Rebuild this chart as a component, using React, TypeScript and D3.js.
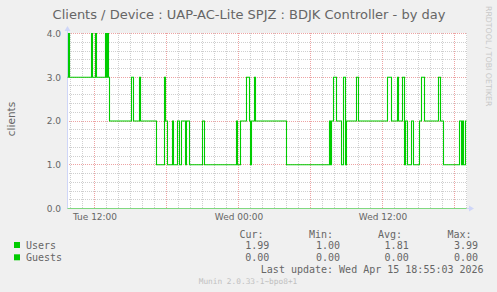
import React from "react";
import * as d3 from "d3";

// ---- data ----
const userTimes = [
  "04-14 09:45","04-14 09:50","04-14 09:55","04-14 11:45","04-14 11:50","04-14 12:05","04-14 12:10",
  "04-14 12:55","04-14 13:00","04-14 13:05","04-14 13:10","04-14 13:15","04-14 15:05","04-14 15:15",
  "04-14 15:45","04-14 15:50","04-14 17:10","04-14 17:50","04-14 17:55","04-14 18:05","04-14 18:30",
  "04-14 18:35","04-14 18:55","04-14 19:05","04-14 19:15","04-14 19:35","04-14 19:40","04-14 19:55",
  "04-14 21:00","04-14 21:10","04-14 23:50","04-14 23:55",
  "04-15 00:10","04-15 00:40","04-15 00:55","04-15 01:00","04-15 01:05","04-15 01:20","04-15 01:25",
  "04-15 04:00","04-15 07:35","04-15 07:40","04-15 07:45","04-15 07:55","04-15 08:10","04-15 08:35",
  "04-15 08:45","04-15 08:55","04-15 09:00","04-15 09:50","04-15 10:00","04-15 12:25","04-15 12:45",
  "04-15 13:15","04-15 13:20","04-15 13:40","04-15 13:50","04-15 13:55","04-15 14:05","04-15 14:25",
  "04-15 14:35","04-15 15:05","04-15 15:15","04-15 15:30","04-15 16:40","04-15 16:50","04-15 17:05",
  "04-15 18:25","04-15 18:35","04-15 18:40","04-15 18:45","04-15 18:55","04-15 19:00",
];
const userValues = [
  3,4,3,4,3,4,3,
  4,3,4,3,2,3,2,
  3,2,1,3,2,1,2,
  1,2,1,2,1,2,1,
  2,1,2,1,
  2,3,2,1,2,3,2,
  1,2,1,2,3,2,1,
  3,1,2,3,2,3,2,
  3,2,3,1,2,1,2,
  1,2,3,2,3,2,1,
  2,1,2,1,2,2,
];
const guestTimes = ["04-14 09:45", "04-15 19:00"];
const guestValues = [0, 0];

const yTicks = [0, 1, 2, 3, 4];
const yTickLabels = ["0.0", "1.0", "2.0", "3.0", "4.0"];
const xTickTimes = ["04-14 12:00", "04-15 00:00", "04-15 12:00"];
const xTickLabels = ["Tue 12:00", "Wed 00:00", "Wed 12:00"];
const legendNames = ["Users", "Guests"];
const legendCur = ["1.99", "0.00"];
const legendMin = ["1.00", "0.00"];
const legendAvg = ["1.81", "0.00"];
const legendMax = ["3.99", "0.00"];
const domainStart = "04-14 09:45";
const domainEnd = "04-15 19:05";

const parse = d3.timeParse("%Y-%m-%d %H:%M");
const p = (s: string) => parse("2026-" + s) as Date;

export default function App() {
  const W = 497, H = 292;
  const x = d3.scaleTime().domain([p(domainStart), p(domainEnd)]).range([67.5, 467.5]);
  const y = d3.scaleLinear().domain([0, 4]).range([208.5, 33.5]);

  const users = userTimes.map((t, i) => ({ t: p(t), v: userValues[i] }));
  const guests = guestTimes.map((t, i) => ({ t: p(t), v: guestValues[i] }));
  const line = d3
    .line<{ t: Date; v: number }>()
    .x((d) => x(d.t))
    .y((d) => y(d.v))
    .curve(d3.curveStepAfter);

  // grid
  const hours = d3.timeHour.every(1)!.range(p(domainStart), p(domainEnd));
  const minorV = hours.filter((h) => h.getHours() % 6 !== 0);
  const majorV = hours.filter((h) => h.getHours() % 6 === 0);
  const minorH = d3.range(0, 20).map((i) => i * 0.2).filter((v, i) => i % 5 !== 0 && v > 0);
  const px = (v: number) => Math.floor(v) + 0.5;

  const sans = "'DejaVu Sans', sans-serif";
  const mono = "'DejaVu Sans Mono', monospace";
  const fontCol = "#666666";
  const axisCol = "#CFD6F8";
  const green = "#00CC00";

  return (
    <svg width={W} height={H} style={{ position: "absolute", left: 0, top: 0, display: "block" }}>
      <rect x={0} y={0} width={W} height={H} fill="#F0F0F0" />
      <rect x={67} y={33} width={400} height={175} fill="#FFFFFF" />
      {/* minor grid */}
      {minorV.map((h, i) => (
        <line key={"mv" + i} x1={px(x(h))} x2={px(x(h))} y1={33} y2={208} stroke="#cfcfcf" strokeDasharray="1,1" />
      ))}
      {minorH.map((v, i) => (
        <line key={"mh" + i} x1={67} x2={467} y1={px(y(v))} y2={px(y(v))} stroke="#cfcfcf" strokeDasharray="1,1" />
      ))}
      {/* major grid */}
      {majorV.map((h, i) => (
        <line key={"Mv" + i} x1={px(x(h))} x2={px(x(h))} y1={33} y2={208} stroke="#eda3a3" strokeDasharray="1,1" />
      ))}
      {yTicks.map((v, i) => (
        <line key={"Mh" + i} x1={67} x2={467} y1={px(y(v))} y2={px(y(v))} stroke="#eda3a3" strokeDasharray="1,1" />
      ))}
      {/* axes */}
      <line x1={67.5} x2={67.5} y1={30} y2={209} stroke={axisCol} />
      <path d="M64.5,31 L70.5,31 L67.5,26 Z" fill={axisCol} />
      <line x1={67} x2={470} y1={208.5} y2={208.5} stroke={axisCol} />
      <path d="M469,205.5 L469,211.5 L474,208.5 Z" fill={axisCol} />
      {/* data */}
      <path d={line(guests) || ""} fill="none" stroke="#80d880" strokeWidth={1} />
      <path d={line(users) || ""} fill="none" stroke={green} strokeWidth={1.1} />
      {/* y tick labels */}
      {yTicks.map((v, i) => (
        <text key={"yl" + i} x={61} y={y(v) + 3.3} textAnchor="end" fontFamily={sans} fontSize={9} fill={fontCol}>
          {yTickLabels[i]}
        </text>
      ))}
      {/* x tick labels */}
      {xTickTimes.map((t, i) => (
        <text key={"xl" + i} x={x(p(t)) + 0.5} y={220} textAnchor="middle" fontFamily={sans} fontSize={9} fill={fontCol}>
          {xTickLabels[i]}
        </text>
      ))}
      {/* title */}
      <text x={249} y={19} textAnchor="middle" fontFamily={sans} fontSize={13} fill={fontCol}>
        Clients / Device : UAP-AC-Lite SPJZ : BDJK Controller - by day
      </text>
      {/* y axis title */}
      <text transform="translate(15,119) rotate(-90)" textAnchor="middle" fontFamily={sans} fontSize={10.5} fill={fontCol}>
        clients
      </text>
      {/* rrdtool watermark */}
      <text transform="translate(486,6) rotate(90)" fontFamily={sans} fontSize={7.8} fill="#c8c8c8">
        RRDTOOL / TOBI OETIKER
      </text>
      {/* legend */}
      {["Cur:", "Min:", "Avg:", "Max:"].map((h, i) => (
        <text key={"lh" + i} x={[263.5, 333, 402, 471.5][i]} y={237.5} textAnchor="end" fontFamily={mono} fontSize={10} fill={fontCol}>
          {h}
        </text>
      ))}
      {legendNames.map((n, r) => (
        <g key={"lg" + r}>
          <rect x={14} y={242 + r * 12.3} width={6} height={6} fill={green} />
          <text x={26} y={249 + r * 12.2} fontFamily={mono} fontSize={10} fill={fontCol}>{n}</text>
          {[legendCur, legendMin, legendAvg, legendMax].map((col, c) => (
            <text key={c} x={[269.3, 340, 408.7, 478][c]} y={249 + r * 12.2} textAnchor="end" fontFamily={mono} fontSize={10} fill={fontCol}>
              {col[r]}
            </text>
          ))}
        </g>
      ))}
      <text x={483.6} y={273.3} textAnchor="end" fontFamily={mono} fontSize={10} fill={fontCol}>
        Last update: Wed Apr 15 18:55:03 2026
      </text>
      <text x={248} y={284} textAnchor="middle" fontFamily={mono} fontSize={7.8} fill="#c0c0c0">
        Munin 2.0.33-1~bpo8+1
      </text>
    </svg>
  );
}
